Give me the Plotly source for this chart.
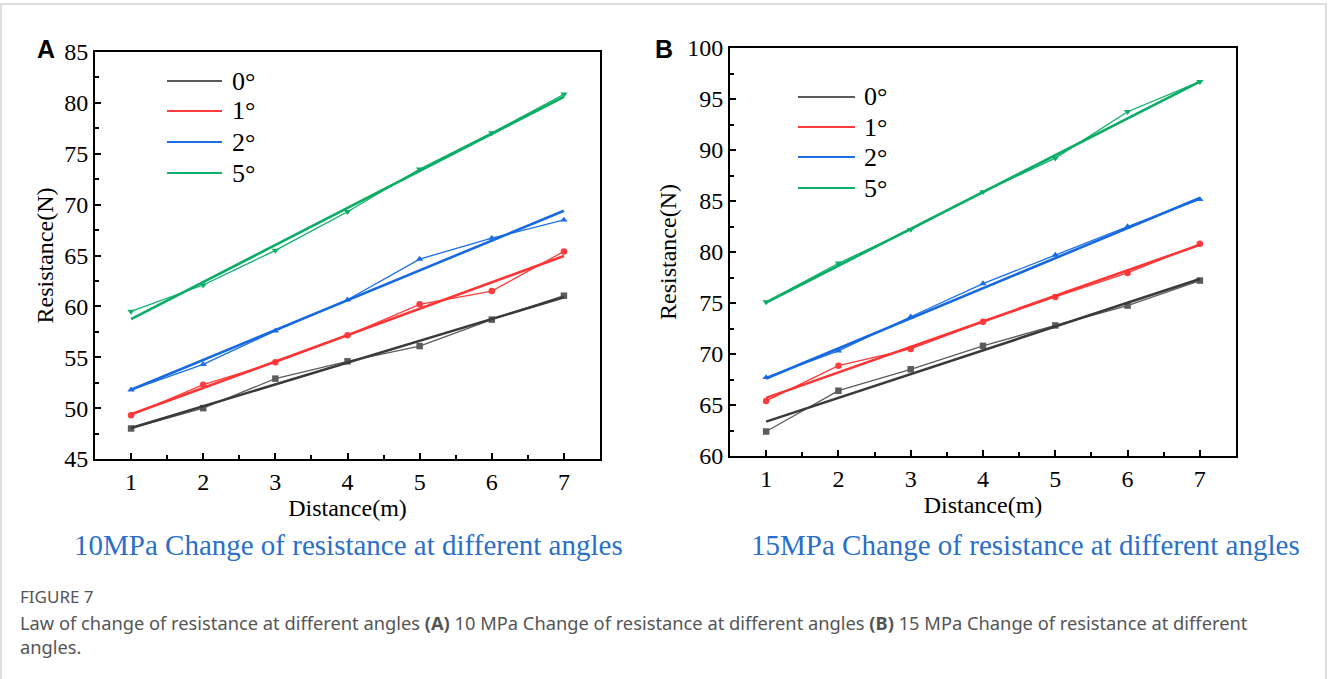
import plotly.graph_objects as go

W, H = 1328, 679

distance = [1, 2, 3, 4, 5, 6, 7]
angles = ["0°", "1°", "2°", "5°"]

# Panel A (10 MPa) measured resistance
a_0 = [48.0, 50.0, 52.9, 54.6, 56.1, 58.7, 61.05]
a_1 = [49.3, 52.3, 54.5, 57.15, 60.2, 61.5, 65.4]
a_2 = [51.8, 54.3, 57.6, 60.65, 64.65, 66.7, 68.5]
a_5 = [59.5, 62.1, 65.5, 69.3, 73.5, 77.05, 80.85]
# Panel A linear-fit line end values (at distance 1 and 7)
a_fit_0 = [48.05, 60.9]
a_fit_1 = [49.4, 64.95]
a_fit_2 = [51.8, 69.4]
a_fit_5 = [58.75, 80.6]

# Panel B (15 MPa) measured resistance
b_0 = [62.4, 66.4, 68.5, 70.8, 72.8, 74.75, 77.2]
b_1 = [65.4, 68.85, 70.5, 73.15, 75.6, 77.95, 80.8]
b_2 = [67.7, 70.3, 73.65, 76.9, 79.7, 82.5, 85.15]
b_5 = [75.1, 78.9, 82.2, 85.9, 89.2, 93.75, 96.7]
# Panel B linear-fit line end values
b_fit_0 = [63.37, 77.35]
b_fit_1 = [65.7, 80.7]
b_fit_2 = [67.6, 85.3]
b_fit_5 = [75.05, 96.7]

fit_x = [1, 7]

colors = ["#5c5c5c", "#ff3b3b", "#1a6fe6", "#0db06b"]
fit_colors = ["#3a3a3a", "#ff3535", "#1769e0", "#0aac66"]
symbols = ["square", "circle", "triangle-up", "triangle-down"]

SERIF = "Liberation Serif, Times New Roman, serif"


def px(x):
    return x / W


def py(y):
    return 1 - y / H


fig = go.Figure()

panels = [
    ("x", "y", [a_0, a_1, a_2, a_5], [a_fit_0, a_fit_1, a_fit_2, a_fit_5]),
    ("x2", "y2", [b_0, b_1, b_2, b_5], [b_fit_0, b_fit_1, b_fit_2, b_fit_5]),
]

for xa, ya, data, fits in panels:
    for i, name in enumerate(angles):
        fig.add_trace(go.Scatter(
            x=distance, y=data[i], mode="lines+markers", name=name,
            line=dict(color=colors[i], width=1.3),
            marker=dict(symbol=symbols[i], size=6.5, color=colors[i]),
            xaxis=xa, yaxis=ya, showlegend=False))
        fig.add_trace(go.Scatter(
            x=fit_x, y=fits[i], mode="lines", name=name + " fit",
            line=dict(color=fit_colors[i], width=2.6),
            xaxis=xa, yaxis=ya, showlegend=False))

axis_common = dict(
    showgrid=False, zeroline=False, showline=True, linecolor="black",
    linewidth=2, mirror=True, ticks="inside", ticklen=6, tickwidth=1.5,
    tickcolor="black", automargin=False,
    tickfont=dict(family=SERIF, size=24, color="black"),
)
title_font = dict(family=SERIF, size=24, color="black")

fig.update_layout(
    width=W, height=H,
    margin=dict(l=0, r=0, t=0, b=0, autoexpand=False),
    paper_bgcolor="white", plot_bgcolor="white",
    showlegend=False,
    xaxis=dict(domain=[px(95), px(600)], range=[0.5, 7.5], dtick=1,
               anchor="y",
               minor=dict(ticks="inside", ticklen=4, dtick=0.5, tickcolor="black"),
               title=dict(text="Distance(m)", font=title_font, standoff=2),
               **axis_common),
    yaxis=dict(domain=[py(459), py(52)], range=[45, 85], dtick=5,
               anchor="x",
               minor=dict(ticks="inside", ticklen=4, dtick=2.5, tickcolor="black"),
               title=dict(text="Resistance(N)", font=title_font, standoff=4),
               **axis_common),
    xaxis2=dict(domain=[px(730), px(1236)], range=[0.5, 7.5], dtick=1,
                anchor="y2",
                minor=dict(ticks="inside", ticklen=4, dtick=0.5, tickcolor="black"),
                title=dict(text="Distance(m)", font=title_font, standoff=2),
                **axis_common),
    yaxis2=dict(domain=[py(456), py(48)], range=[60, 100], dtick=5,
                anchor="x2",
                minor=dict(ticks="inside", ticklen=4, dtick=2.5, tickcolor="black"),
                title=dict(text="Resistance(N)", font=title_font, standoff=4),
                **axis_common),
)

# Manual legends
legend_pos = [
    (167, 222, 230, [81, 111, 142, 173]),
    (798, 855, 862, [97, 127, 157, 188]),
]
for (x0, x1, xt, ys) in legend_pos:
    for i, name in enumerate(angles):
        fig.add_shape(type="line", xref="paper", yref="paper",
                      x0=px(x0), x1=px(x1), y0=py(ys[i]), y1=py(ys[i]),
                      line=dict(color=colors[i], width=2))
        fig.add_annotation(xref="paper", yref="paper", x=px(xt), y=py(ys[i]),
                           text=name, showarrow=False, xanchor="left", yanchor="middle",
                           font=dict(family=SERIF, size=26, color="black"))

# Panel letters
for letter, xx in [("A", 46), ("B", 664)]:
    fig.add_annotation(xref="paper", yref="paper", x=px(xx), y=py(49), text="<b>" + letter + "</b>",
                       showarrow=False, xanchor="center", yanchor="middle",
                       font=dict(family="Liberation Sans, Arial, sans-serif", size=25, color="black"))

# Blue captions under panels
cap_blue = "#2a6fc9"
fig.add_annotation(xref="paper", yref="paper", x=px(348), y=py(545),
                   text="10MPa Change of resistance at different angles", showarrow=False,
                   xanchor="center", yanchor="middle",
                   font=dict(family=SERIF, size=29, color=cap_blue))
fig.add_annotation(xref="paper", yref="paper", x=px(1025), y=py(545),
                   text="15MPa Change of resistance at different angles", showarrow=False,
                   xanchor="center", yanchor="middle",
                   font=dict(family=SERIF, size=29, color=cap_blue))

# Figure caption
fig.add_annotation(xref="paper", yref="paper", x=px(18), y=py(596), text="FIGURE 7",
                   showarrow=False, xanchor="left", yanchor="middle",
                   font=dict(family="Noto Sans, sans-serif", size=17, color="#555555"))
fig.add_annotation(xref="paper", yref="paper", x=px(18), y=py(634),
                   text=("Law of change of resistance at different angles <b>(A)</b> 10 MPa Change of "
                         "resistance at different angles <b>(B)</b> 15 MPa Change of resistance at different"
                         "<br>angles."),
                   showarrow=False, xanchor="left", yanchor="middle", align="left",
                   font=dict(family="Noto Sans, sans-serif", size=18.3, color="#555555"))

# Outer light frame
fig.add_shape(type="rect", xref="paper", yref="paper",
              x0=px(1), x1=px(1326), y0=py(700), y1=py(4),
              line=dict(color="#d4d4d4", width=1.5), fillcolor="rgba(0,0,0,0)", layer="below")

fig.write_html(
    "out.html",
    config={"displayModeBar": False},
    post_script="document.body.style.margin='0px';document.body.style.overflow='hidden';",
)
